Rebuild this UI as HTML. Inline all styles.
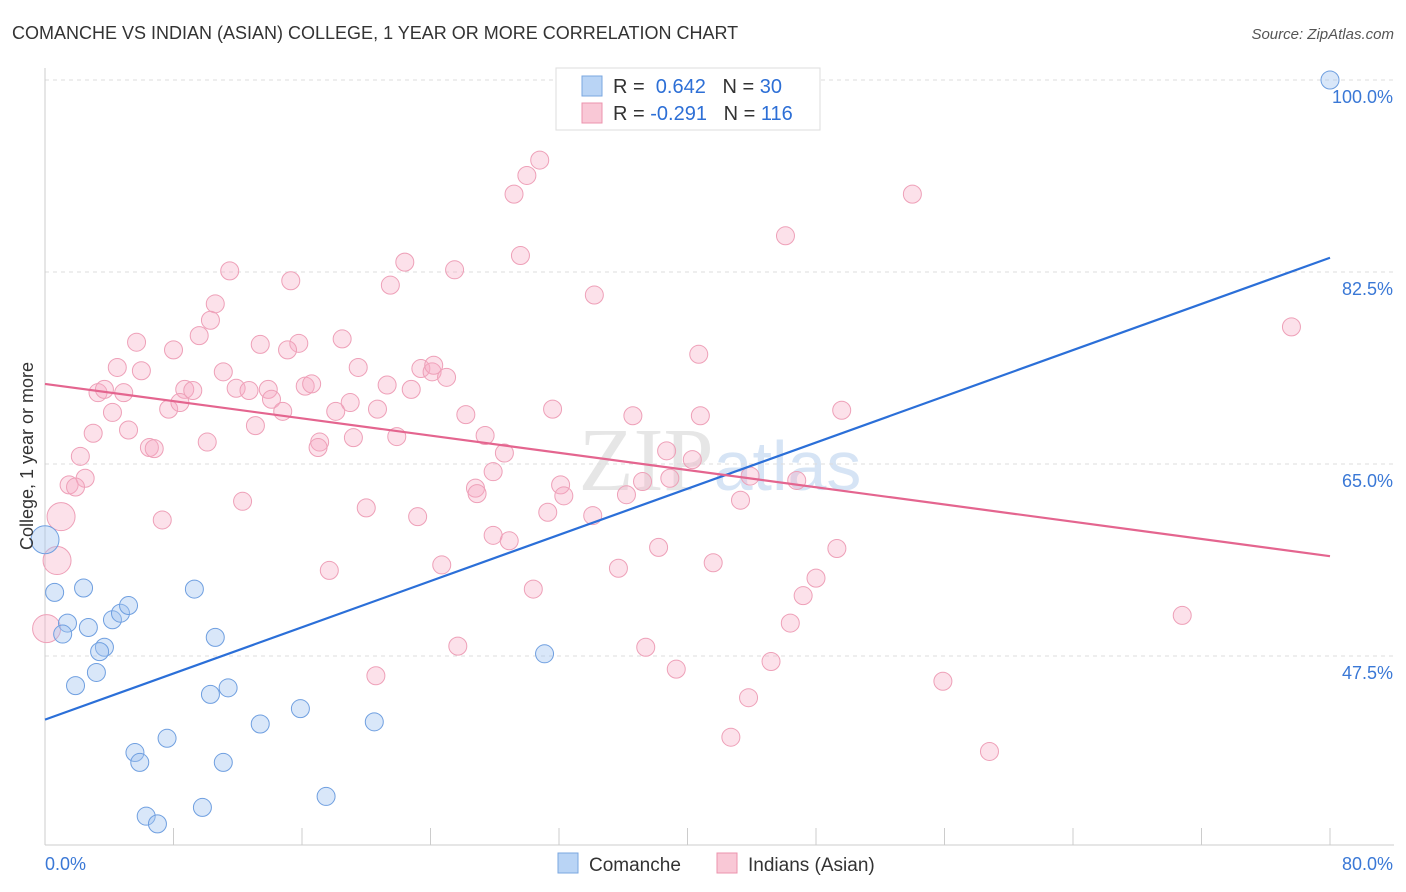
<!DOCTYPE html>
<html><head><meta charset="utf-8"><style>
body{margin:0;background:#fff;font-family:"Liberation Sans",sans-serif;}
svg{display:block}
</style></head><body>
<svg id="chart" width="1406" height="892" xmlns="http://www.w3.org/2000/svg" font-family="Liberation Sans, sans-serif">
<text x="12" y="39" font-size="18" fill="#333">COMANCHE VS INDIAN (ASIAN) COLLEGE, 1 YEAR OR MORE CORRELATION CHART</text>
<text x="1394" y="39" font-size="15" fill="#555" text-anchor="end" font-style="italic">Source: ZipAtlas.com</text>
<text x="720" y="490" font-size="90" fill="#e6e6e6" text-anchor="middle" font-family="Liberation Serif, serif">ZIP<tspan fill="#d6e4f5" font-family="Liberation Sans, sans-serif" font-size="70">atlas</tspan></text>
<g id="grid"></g>
<g id="axes"></g>
<g id="pink"></g>
<g id="blue"></g>
<g id="lines"></g>
<text transform="translate(33,456) rotate(-90)" font-size="18" fill="#333" text-anchor="middle">College, 1 year or more</text>
<g>
<rect x="556" y="68" width="264" height="62" fill="#fff" stroke="#ddd"/>
<rect x="582" y="76" width="20" height="20" fill="#b9d4f5" stroke="#7aa7e0"/>
<rect x="582" y="103" width="20" height="20" fill="#f9c8d6" stroke="#ec93ad"/>
<text x="613" y="93" font-size="20" fill="#333">R = <tspan fill="#2d6fd6">&#160;0.642</tspan>&#160;&#160;&#160;N = <tspan fill="#2d6fd6"> 30</tspan></text>
<text x="613" y="120" font-size="20" fill="#333">R = <tspan fill="#2d6fd6">-0.291</tspan>&#160;&#160;&#160;N = <tspan fill="#2d6fd6">116</tspan></text>
</g>
<g>
<rect x="558" y="853" width="20" height="20" fill="#b9d4f5" stroke="#7aa7e0"/>
<text x="589" y="871" font-size="19" fill="#333">Comanche</text>
<rect x="717" y="853" width="20" height="20" fill="#f9c8d6" stroke="#ec93ad"/>
<text x="748" y="871" font-size="19" fill="#333">Indians (Asian)</text>
</g>
</svg>
<script>
const yTicks=[100,82.5,65,47.5];
const yTickLabels=["100.0%","82.5%","65.0%","47.5%"];
const xTickLabels=["0.0%","80.0%"];
const blueX=[80,0,0.6,2.4,1.4,1.1,2.7,4.2,4.7,5.2,3.7,3.4,3.2,1.9,9.3,10.6,10.3,11.4,13.4,15.9,20.5,31.1,5.6,5.9,7.6,11.1,6.3,7.0,9.8,17.5];
const blueY=[100,58.1,53.3,53.7,50.5,49.5,50.1,50.8,51.4,52.1,48.3,47.9,46.0,44.8,53.6,49.2,44.0,44.6,41.3,42.7,41.5,47.7,38.7,37.8,40.0,37.8,32.9,32.2,33.7,34.7];
const pinkX=[30.8,30.0,29.2,54.0,46.1,29.6,22.4,25.5,11.5,15.3,21.5,34.2,10.6,10.3,77.6,9.6,5.7,13.4,15.8,18.5,8.0,15.1,4.5,6.0,11.1,19.5,23.4,24.1,24.2,25.0,40.7,3.3,3.7,4.9,8.7,9.2,11.9,12.7,13.9,16.2,16.6,21.3,22.8,14.1,19.0,20.7,7.7,8.4,4.2,14.8,18.1,26.2,31.6,36.6,40.8,49.6,5.2,13.1,3.0,10.1,6.5,6.8,17.1,17.0,19.2,21.9,27.4,28.6,38.7,40.3,2.2,2.5,1.5,1.9,27.9,26.8,26.9,32.1,32.3,36.2,37.2,38.9,43.9,46.8,43.3,12.3,20.0,31.3,34.1,23.2,7.3,1.0,27.9,28.9,0.75,17.7,24.7,35.7,38.2,41.6,49.3,48.0,30.4,47.2,70.8,46.4,0.1,25.7,37.4,45.2,39.3,20.6,55.9,43.8,42.7,58.8];
const pinkY=[92.7,91.3,89.6,89.6,85.8,84.0,83.4,82.7,82.6,81.7,81.3,80.4,79.6,78.1,77.5,76.7,76.1,75.9,76.0,76.4,75.4,75.4,73.8,73.5,73.4,73.8,73.7,73.4,74.0,72.9,75.0,71.5,71.8,71.5,71.8,71.7,71.9,71.7,71.8,72.1,72.3,72.2,71.8,70.9,70.6,70.0,70.0,70.6,69.7,69.8,69.8,69.5,70.0,69.4,69.4,69.9,68.1,68.5,67.8,67.0,66.5,66.4,67.0,66.5,67.4,67.5,67.6,66.0,66.2,65.4,65.7,63.7,63.1,62.9,64.3,62.8,62.3,63.1,62.1,62.2,63.4,63.7,63.9,63.5,61.7,61.6,61.0,60.6,60.3,60.2,59.9,60.2,58.5,58.0,56.2,55.3,55.8,55.5,57.4,56.0,57.3,54.6,53.6,53.0,51.2,50.5,50.0,48.4,48.3,47.0,46.3,45.7,45.2,43.7,40.1,38.8];
const sizeBlue=[9,14,9,9,9,9,9,9,9,9,9,9,9,9,9,9,9,9,9,9,9,9,9,9,9,9,9,9,9,9];
const X=v=>45+v*(1285/80);
const Y=v=>80+(100-v)*(192/17.5);
const NS="http://www.w3.org/2000/svg";
function mk(tag,attrs,parent){const e=document.createElementNS(NS,tag);for(const k in attrs)e.setAttribute(k,attrs[k]);document.getElementById(parent).appendChild(e);return e;}
yTicks.forEach((t,i)=>{
 const g=mk('line',{x1:45,x2:1394,y1:Y(t),y2:Y(t),stroke:'#ddd','stroke-dasharray':'4,4'},'grid');
 
 
 const tx=mk('text',{x:1393,y:Y(t)+23,'font-size':18,fill:'#3a78d6','text-anchor':'end'},'axes');
 tx.textContent=yTickLabels[i];
 
 
});
const ax=mk('line',{x1:45,x2:1394,y1:845,y2:845,stroke:'#ccc'},'axes');


const ay=mk('line',{x1:45,x2:45,y1:68,y2:845,stroke:'#ccc'},'axes');


for(let i=0;i<=10;i++){const t=mk('line',{x1:X(i*8),x2:X(i*8),y1:828,y2:845,stroke:'#ccc'},'axes');
 
 }
const xl0=mk('text',{x:45,y:870,'font-size':18,fill:'#3a78d6'},'axes');xl0.textContent=xTickLabels[0];


const xl1=mk('text',{x:1393,y:870,'font-size':18,fill:'#3a78d6','text-anchor':'end'},'axes');xl1.textContent=xTickLabels[1];


pinkX.forEach((v,i)=>{const big=(v<1.1&&(pinkY[i]>48&&pinkY[i]<61));
 const c=mk('circle',{cx:X(v),cy:Y(pinkY[i]),r:big?14:9,fill:'rgba(246,170,195,0.35)',stroke:'#eea0b8','stroke-width':1},'pink');
 
 });
blueX.forEach((v,i)=>{
 const c=mk('circle',{cx:X(v),cy:Y(blueY[i]),r:sizeBlue[i],fill:'rgba(160,196,240,0.4)',stroke:'#6f9fe0','stroke-width':1},'blue');
 
 });
const bl=mk('line',{x1:X(0),y1:Y(41.7),x2:X(80),y2:Y(83.8),stroke:'#2b6fd8','stroke-width':2.2},'lines');


const pl=mk('line',{x1:X(0),y1:Y(72.3),x2:X(80),y2:Y(56.6),stroke:'#e4658f','stroke-width':2.2},'lines');


</script>
</body></html>
